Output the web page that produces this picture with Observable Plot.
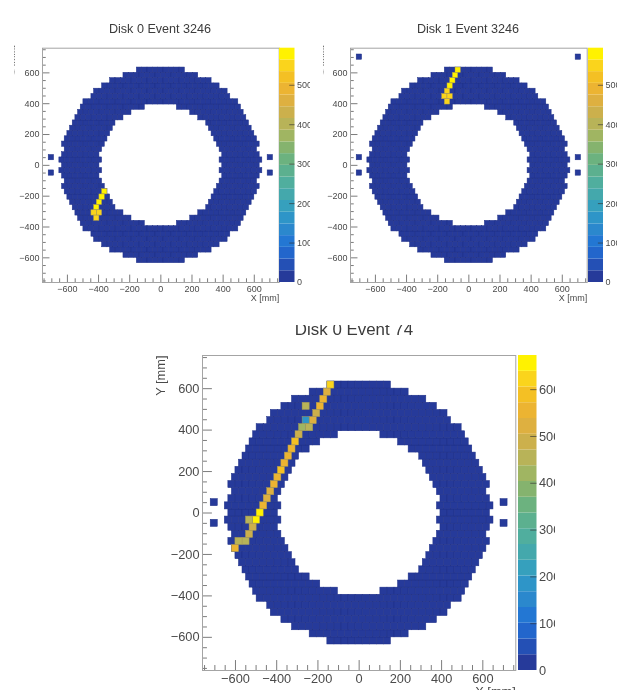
<!DOCTYPE html>
<html><head><meta charset="utf-8">
<script src="https://cdn.jsdelivr.net/npm/d3@7"></script>
<script src="https://cdn.jsdelivr.net/npm/@observablehq/plot@0.6"></script>
<style>
html,body{margin:0;padding:0;background:#fff;}
#page{position:relative;width:617px;height:690px;overflow:hidden;font-family:"Liberation Sans",sans-serif;filter:blur(.45px);}
#page svg{position:absolute;overflow:hidden;background:transparent;}
.ttl{position:absolute;text-align:center;color:#3c3c3c;white-space:nowrap;overflow:hidden;}
.sq{position:absolute;color:#555;white-space:nowrap;font-size:9.5px;transform-origin:left top;}
</style></head><body><div id="page"></div>
<script>
// Crystal layout, indexed by |row| from the disk centre; edges in half-pitch slots
const pitch = 34.3;
const rowOuter = [37,38,37,36,37,36,35,34,33,32,31,30,29,26,25,22,19,14,9];
const rowInner = [23,22,23,22,21,20,19,18,17,14,11,6,0,0,0,0,0,0,0];

// Hit crystals: row index, slot in half-pitches, value
const hits0Row = [-5,-6,-7,-8,-9,-9,-10];
const hits0Slot = [-21,-22,-23,-24,-25,-23,-24];
const hits0Val = [575,585,575,565,535,540,560];

const hits1Row = [18,17,16,15,14,13,13,12];
const hits1Slot = [-4,-5,-6,-7,-8,-9,-7,-8];
const hits1Val = [565,585,585,575,560,535,535,560];

const hits2Row = [18,17,16,15,14,13,15,13,12,12,11,10,9,8,7,6,5,4,3,2,1,0,-1,-1,-2,-3,-4,-4,-5];
const hits2Slot = [-8,-9,-10,-11,-12,-13,-15,-15,-14,-16,-17,-18,-19,-20,-21,-22,-23,-24,-25,-26,-27,-28,-29,-31,-30,-31,-32,-34,-35];
const hits2Val = [610,530,570,570,490,510,440,170,460,430,480,580,570,560,570,580,560,570,520,530,560,665,660,470,480,480,460,460,550];

// Calibration crystals outside the disk
const extraSideX = [-703,-703,703,703];
const extraSideY = [50,-50,50,-50];
const extraCornerX = [-703,703];
const extraCornerY = [702,702];

const majorTicks = [-600,-400,-200,0,200,400,600];
const minorTicks = [-750,-700,-650,-550,-500,-450,-350,-300,-250,-150,-100,-50,50,100,150,250,300,350,450,500,550,650,700,750];
const barTicks = [0,100,200,300,400,500,600];
const barColors = ["#263a9a","#2450b5","#2266cc","#2377d3","#2b88cd","#2e95c8","#36a0bd","#44a8ac","#50ae9e","#5cb08f","#6cb27f","#85b36e","#a0b562","#b8b358","#ccb04c","#deb040","#ecb432","#f4c024","#fad41c","#fff200"];

const cells = [];
for (let k = -18; k <= 18; k++) {
  const a = Math.abs(k), O = rowOuter[a], I = rowInner[a];
  for (let j = -(O - 1); j <= O - 1; j += 2) {
    if (I === 0 || Math.abs(j) > I) cells.push({x: j * pitch / 2, y: k * pitch, v: 0});
  }
}
const page = document.getElementById("page");

function panel(o) {
  const hw = pitch / 2;
  const hits = o.hitRow.map((r, i) => ({x: o.hitSlot[i] * pitch / 2, y: r * pitch, v: o.hitVal[i]}));
  const extra = o.extraX.map((x, i) => ({x, y: o.extraY[i], v: 0}));
  const levels = barColors.map((_, i) => o.max * i / barColors.length);
  const color = {type: "threshold", domain: levels.slice(1), range: barColors};
  const rect = (data, stroke) => Plot.rect(data, {
    x1: d => d.x - hw, x2: d => d.x + hw, y1: d => d.y - hw, y2: d => d.y + hw,
    fill: d => d.v, stroke, strokeWidth: 0.5
  });
  const top = o.fT - o.T, left = o.fL - o.L;
  const marks = [
    rect(cells, "#1e2f86"), rect(extra, "#1e2f86"),
    rect(hits, "#a89a58"),
    Plot.ruleX(majorTicks, {x: d => d, y1: -760, y2: -712, stroke: "#7c7c7c", strokeWidth: 1}),
    Plot.ruleX(minorTicks, {x: d => d, y1: -760, y2: -736, stroke: "#7c7c7c", strokeWidth: 1}),
    Plot.ruleY(majorTicks, {y: d => d, x1: -760, x2: -712, stroke: "#7c7c7c", strokeWidth: 1}),
    Plot.ruleY(minorTicks, {y: d => d, x1: -760, x2: -736, stroke: "#7c7c7c", strokeWidth: 1}),
    Plot.frame({stroke: "#a4a4a4", strokeWidth: 1}),
    Plot.axisX({ticks: majorTicks, tickSize: 0, tickPadding: o.padX, label: null, fill: "#4a4a4a"}),
    Plot.axisY({ticks: majorTicks, tickSize: 0, tickPadding: 3, label: null, fill: "#4a4a4a"}),
    Plot.text(["X [mm]"], {frameAnchor: "bottom-right", lineAnchor: "top", dy: o.labelDy, fill: "#4a4a4a"})
  ];
  if (o.yLabel) marks.push(Plot.text(["Y [mm]"], {frameAnchor: "top-left", rotate: -90, textAnchor: "end", lineAnchor: "middle", dx: -42, fill: "#4a4a4a"}));
  const svg = Plot.plot({
    width: o.W, height: o.H,
    marginLeft: left, marginTop: top, marginRight: o.L + o.W - o.fR, marginBottom: o.T + o.H - o.fB,
    x: {domain: [-760, 760], axis: null},
    y: {domain: [-760, 760], axis: null},
    color,
    style: {fontFamily: "'Liberation Sans',sans-serif", fontSize: o.fs + "px", left: o.L + "px", top: o.T + "px"},
    marks
  });
  page.appendChild(svg);

  const bar = levels.map((lo, i) => ({lo, hi: i + 1 < levels.length ? levels[i + 1] : o.max, v: lo}));
  const shown = barTicks.filter(t => t <= o.max);
  const barSvg = Plot.plot({
    width: o.barClip - o.bL, height: o.H,
    marginLeft: 0, marginRight: o.barClip - o.bR, marginTop: top, marginBottom: o.T + o.H - o.fB,
    x: {domain: [0, 1], axis: null},
    y: {domain: [0, o.max], axis: null},
    color,
    style: {fontFamily: "'Liberation Sans',sans-serif", fontSize: o.fs + "px", left: o.bL + "px", top: o.T + "px"},
    marks: [
      Plot.rect(bar, {x1: () => 0, x2: () => 1, y1: "lo", y2: "hi", fill: "v"}),
      Plot.ruleY(shown.filter(t => t > 0), {y: d => d, x1: 0.66, x2: 1, stroke: "#333", strokeOpacity: 0.65, strokeWidth: 1}),
      Plot.axisY({ticks: shown, anchor: "right", tickSize: 0, tickPadding: 2, label: null, fill: "#4a4a4a"})
    ]
  });
  page.appendChild(barSvg);

  const t = document.createElement("div");
  t.className = "ttl";
  t.textContent = o.title;
  t.style.cssText = `left:${o.tL}px;width:${o.tW}px;top:${o.tT}px;height:${o.tH}px;line-height:${o.tLH}px;font-size:${o.tFs}px;`;
  page.appendChild(t);
}

panel({title: "Disk 0 Event 3246", tL: 60, tW: 200, tT: 20, tH: 18, tLH: 18, tFs: 12.6,
  L: 0, T: 40, W: 290, H: 268, fL: 42, fR: 278.7, fT: 47.7, fB: 282, bL: 279, bR: 294.5, barClip: 309.5,
  max: 594, fs: 9, padX: 3, labelDy: 12,
  hitRow: hits0Row, hitSlot: hits0Slot, hitVal: hits0Val, extraX: extraSideX, extraY: extraSideY});

panel({title: "Disk 1 Event 3246", tL: 368, tW: 200, tT: 20, tH: 18, tLH: 18, tFs: 12.6,
  L: 312, T: 40, W: 285, H: 268, fL: 350, fR: 586.7, fT: 47.7, fB: 282, bL: 587.5, bR: 602.5, barClip: 617,
  max: 594, fs: 9, padX: 3, labelDy: 12,
  hitRow: hits1Row, hitSlot: hits1Slot, hitVal: hits1Val,
  extraX: extraSideX.concat(extraCornerX), extraY: extraSideY.concat(extraCornerY)});

panel({title: "Disk 0 Event 74", tL: 254, tW: 200, tT: 325, tH: 14, tLH: 10, tFs: 16.9,
  L: 150, T: 345, W: 368, H: 345, fL: 202, fR: 515.3, fT: 355, fB: 670, bL: 517.5, bR: 536, barClip: 555,
  max: 673, fs: 12.8, padX: 3, labelDy: 16, yLabel: true,
  hitRow: hits2Row, hitSlot: hits2Slot, hitVal: hits2Val, extraX: extraSideX, extraY: extraSideY});

// The squeezed axis titles of the two upper panels
for (const left of [13, 322]) {
  const s = document.createElement("div");
  s.className = "sq";
  s.textContent = "Y [mm]";
  s.style.cssText = `left:${left}px;top:75px;transform:rotate(-90deg) scaleY(.25);`;
  page.appendChild(s);
}
</script></body></html>
